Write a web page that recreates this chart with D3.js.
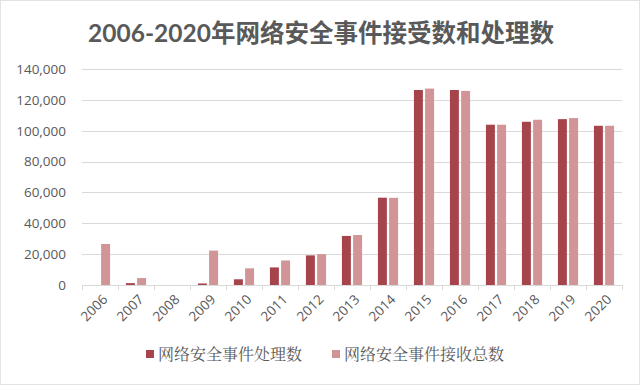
<!DOCTYPE html>
<html><head><meta charset="utf-8">
<script src="https://cdn.jsdelivr.net/npm/d3@7"></script>
<style>body{margin:0;background:#fff}svg{display:block}</style>
</head><body>
<svg id="c" width="640" height="385"></svg>
<script>
const years = ["2006","2007","2008","2009","2010","2011","2012","2013","2014","2015","2016","2017","2018","2019","2020"];
const processed = [0,1200,0,1000,3700,11400,19200,31800,56600,126400,126400,103900,105800,107500,103200];
const received = [26600,4500,0,22300,10800,15900,20000,32400,56500,127300,125800,103900,107100,108200,103200];
const yTicks = [0,20000,40000,60000,80000,100000,120000,140000];
const seriesNames = ["网络安全事件处理数","网络安全事件接收总数"];
const colors = ["#A6434B","#D19597"];

const svg = d3.select("#c");
svg.append("rect").attr("x",0.5).attr("y",0.5).attr("width",639).attr("height",384)
  .attr("fill","#fff").attr("stroke","#e3e3e3");

svg.append("text").attr("x",321).attr("y",42).attr("text-anchor","middle")
  .attr("font-family","Lato, 'Noto Sans CJK SC', sans-serif").attr("font-weight","bold")
  .attr("font-size",24.5).attr("fill","#595959")
  .text("2006-2020年网络安全事件接受数和处理数");

const L=82,R=622,T=69,B=285;
const x = d3.scaleBand().domain(years).range([L,R]).paddingInner(0.44).paddingOuter(0.22);
const xi = d3.scaleBand().domain([0,1]).range([0,x.bandwidth()]).paddingInner(0.2);
const y = d3.scaleLinear().domain([0,140000]).range([B,T]);

// gridlines
svg.append("g").selectAll("line").data(yTicks.slice(1)).join("line")
  .attr("x1",L).attr("x2",R).attr("y1",d=>Math.round(y(d))+0.5).attr("y2",d=>Math.round(y(d))+0.5)
  .attr("stroke","#d9d9d9").attr("stroke-width",1);

// y axis labels
const ya = svg.append("g").attr("transform",`translate(${L},0)`)
  .call(d3.axisLeft(y).tickValues(yTicks).tickSize(0).tickPadding(16).tickFormat(d3.format(",")));
ya.select(".domain").remove();
ya.selectAll("text").attr("font-family","'Open Sans', sans-serif").attr("font-size",13.5).attr("fill","#595959");

// bars
const data = years.map((yr,i)=>({yr, vals:[processed[i],received[i]]}));
const g = svg.append("g").selectAll("g").data(data).join("g")
  .attr("transform",d=>`translate(${x(d.yr)},0)`);
g.selectAll("rect").data(d=>d.vals.map((v,k)=>({v,k}))).join("rect")
  .attr("x",d=>xi(d.k)).attr("width",xi.bandwidth())
  .attr("y",d=>y(d.v)).attr("height",d=>B-y(d.v))
  .attr("fill",d=>colors[d.k]);

// x axis
const step = (R-L)/years.length;
const xa = svg.append("g");
xa.append("line").attr("x1",L).attr("x2",R).attr("y1",B+0.5).attr("y2",B+0.5).attr("stroke","#d9d9d9");
xa.selectAll("line.t").data(d3.range(years.length+1)).join("line").attr("class","t")
  .attr("x1",i=>Math.round(L+i*step)+0.5).attr("x2",i=>Math.round(L+i*step)+0.5)
  .attr("y1",B).attr("y2",B+5).attr("stroke","#d9d9d9");
xa.selectAll("text").data(years).join("text")
  .attr("transform",d=>`translate(${x(d)+x.bandwidth()/2+5},${B+12}) rotate(-45)`)
  .attr("text-anchor","end").attr("dy","0.35em")
  .attr("font-family","'Open Sans', sans-serif").attr("font-size",13.5).attr("fill","#595959")
  .text(d=>d);

// legend
const leg = svg.append("g");
const lx = [146,332];
seriesNames.forEach((n,k)=>{
  leg.append("rect").attr("x",lx[k]).attr("y",350).attr("width",8).attr("height",8).attr("fill",colors[k]);
  leg.append("text").attr("x",lx[k]+12).attr("y",360)
    .attr("font-family","'Noto Serif CJK SC','Noto Sans CJK SC', serif").attr("font-size",16).attr("fill","#595959")
    .text(n);
});
</script>
</body></html>
